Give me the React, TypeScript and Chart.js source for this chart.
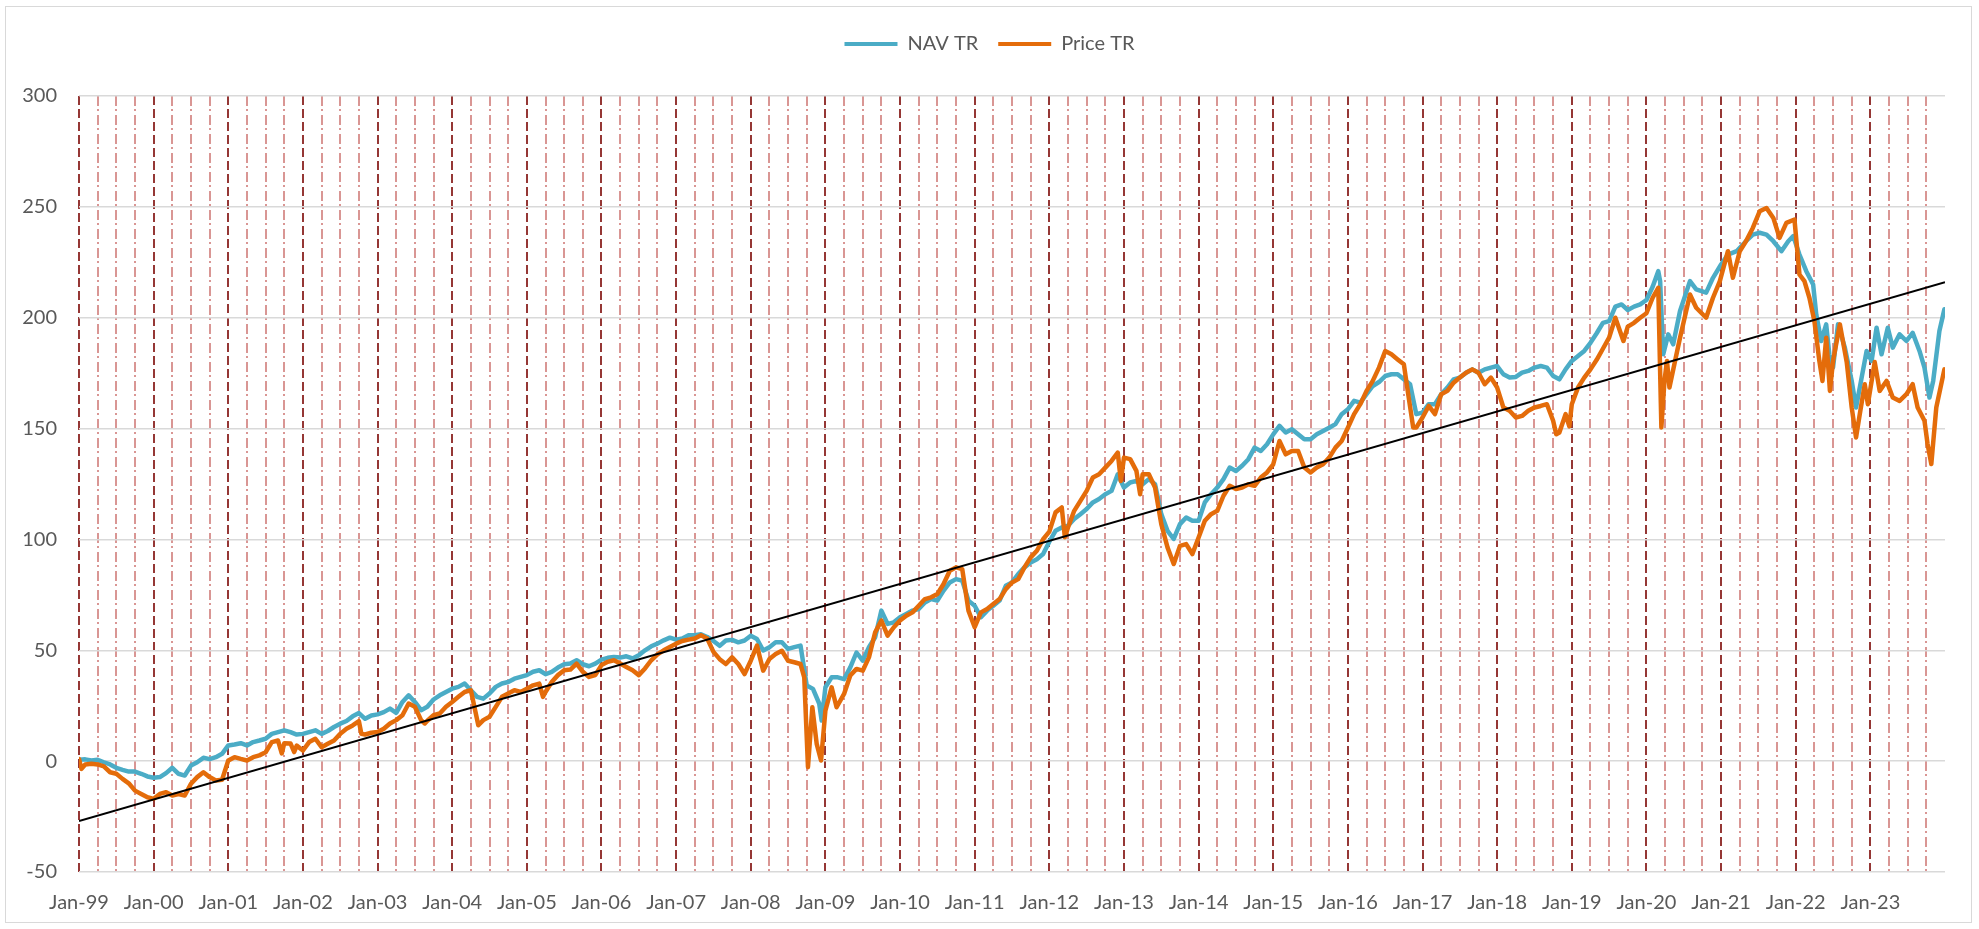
import { useEffect, useRef } from 'react';
import { Chart, registerables } from 'chart.js';

Chart.register(...registerables);

// x values are months since Jan-1999
const YEAR_LABELS = [
  'Jan-99', 'Jan-00', 'Jan-01', 'Jan-02', 'Jan-03', 'Jan-04', 'Jan-05', 'Jan-06', 'Jan-07',
  'Jan-08', 'Jan-09', 'Jan-10', 'Jan-11', 'Jan-12', 'Jan-13', 'Jan-14', 'Jan-15', 'Jan-16',
  'Jan-17', 'Jan-18', 'Jan-19', 'Jan-20', 'Jan-21', 'Jan-22', 'Jan-23',
];

const X_MAX = 300;
const Y_MIN = -50;
const Y_MAX = 300;
const Y_STEP = 50;

const NAV_MONTHS = [
  0, 1, 2, 3, 4, 5, 6, 7, 8, 9, 10, 11,
  12, 13, 14, 15, 16, 17, 18, 19, 20, 21, 22, 23,
  24, 25, 26, 27, 28, 29, 30, 31, 32, 33, 34, 35,
  36, 37, 38, 39, 40, 41, 42, 43, 44, 45, 46, 47,
  48, 49, 50, 51, 52, 53, 54, 55, 56, 57, 58, 59,
  60, 61, 62, 63, 64, 65, 66, 67, 68, 69, 70, 71,
  72, 73, 74, 75, 76, 77, 78, 79, 80, 81, 82, 83,
  84, 85, 86, 87, 88, 89, 90, 91, 92, 93, 94, 95,
  96, 97, 98, 99, 100, 101, 102, 103, 104, 105, 106, 107,
  108, 109, 110, 111, 112, 113, 114, 115, 116, 117, 118, 119, 119.4,
  120, 121, 122, 123, 124, 125, 126, 127, 128, 129, 130, 131,
  132, 133, 134, 135, 136, 137, 138, 139, 140, 141, 142, 143,
  144, 145, 146, 147, 148, 149, 150, 151, 152, 153, 154, 155,
  156, 157, 158, 159, 160, 161, 162, 163, 164, 165, 166, 167,
  168, 169, 170, 171, 172, 173, 174, 175, 176, 177, 178, 179,
  180, 181, 182, 183, 184, 185, 186, 187, 188, 189, 190, 191,
  192, 193, 194, 195, 196, 197, 198, 199, 200, 201, 202, 203,
  204, 205, 206, 207, 208, 209, 210, 211, 212, 213, 214, 215,
  216, 217, 218, 219, 220, 221, 222, 223, 224, 225, 226, 227,
  228, 229, 230, 231, 232, 233, 234, 235, 236, 237, 238, 239,
  240, 241, 242, 243, 244, 245, 246, 247, 248, 249, 250, 251,
  252, 253, 253.9, 254.2, 254.7, 255.5, 256.3, 257.4, 259, 260, 261.6, 262.7,
  264, 265.1, 266.5, 268, 269.1, 270.2, 271.3, 272.4, 273.7, 274.8, 275.6,
  276.6, 277.7, 278.8, 279.3, 280.1, 280.9, 281.4, 282, 282.8, 283.9,
  285, 285.7, 286.5, 287.4, 288.2, 289, 289.8, 290.8, 291.6, 292.7,
  293.8, 294.8, 295.9, 296.7, 297.5, 298.1, 299.1, 299.9,
];

const NAV_VALUES = [
  0.6, 0.8, 0.3, 0.6, -0.5, -1.5, -3, -3.9, -4.7, -4.7, -5.7, -6.9,
  -7.5, -7.2, -5.4, -3, -5.7, -6.5, -2, -0.5, 1.5, 0.9, 1.8, 3.3,
  7.1, 7.5, 8.1, 7.1, 8.6, 9.3, 10.1, 12.3, 13.1, 13.9, 13.1, 12,
  12.3, 13.1, 13.9, 12.3, 13.6, 15.4, 16.9, 18.1, 20.2, 21.7, 19.1, 20.6,
  21.1, 22.1, 23.7, 21.8, 26.7, 29.7, 26.7, 23, 24.5, 27.8, 29.7, 31.2,
  32.7, 33.5, 35, 32, 29, 28.2, 30.5, 33.5, 35, 35.7, 37.2, 38,
  38.8, 40.3, 41, 39.2, 40.3, 42.2, 43.7, 44, 45.5, 43.7, 42.8, 44,
  45.8, 46.6, 47, 46.7, 47.3, 46.3, 47.8, 50, 51.8, 53, 54.5, 55.7,
  54.8, 55.3, 56.8, 56.8, 57.2, 56, 54.2, 52, 54.4, 54.7, 53.6, 54.4,
  56.6, 55.1, 49.9, 51.4, 53.6, 53.6, 50.6, 51.4, 52.1, 34.1, 32.6, 26, 18.3,
  33.3, 37.8, 37.8, 37, 42.3, 49, 45.3, 51.4, 55.9, 67.9, 61.9, 62.6,
  64.9, 66.4, 67.9, 68.6, 71.6, 73.1, 72.4, 76.9, 80.6, 82.1, 81.4, 72.4,
  70.1, 64.9, 67.9, 70.1, 72.4, 79.1, 80.6, 84.4, 87.4, 89.6, 91.1, 93.4,
  99, 103.9, 105.4, 106.2, 109.2, 111.4, 113.7, 116.7, 118.2, 120.4, 121.9, 129.4,
  123.4, 125.7, 126.4, 124.9, 127.2, 124.9, 111.4, 103.9, 100.2, 106.9, 109.9, 108.4,
  108.4, 116.7, 120.4, 123.4, 127.2, 132.4, 130.9, 133.2, 136.2, 141.4, 139.9, 142.9,
  147.4, 151.2, 148.2, 149.7, 147.4, 145.2, 145.2, 147.4, 148.9, 150.4, 152, 156.5,
  158.7, 162.5, 161.7, 165.5, 169.2, 171, 173.7, 174.5, 174.5, 172.2, 170, 156.5,
  157.2, 161, 161, 165.5, 168.5, 172.2, 173, 175.2, 176.7, 175.2, 176.7, 177.5,
  178.2, 174.5, 173, 173.3, 175.2, 176, 177.5, 178.2, 177.5, 173.7, 172.2, 176.7,
  180.5, 182.7, 185, 188.7, 193, 197.7, 198.5, 205, 206, 203.5, 205, 206,
  208, 214, 221, 216.5, 183.5, 192.5, 188, 203, 216.5, 212.8, 211.3, 218,
  224, 228.5, 230, 234.5, 237.5, 238.3, 237.5, 234.5, 230, 234.5, 236.8,
  228.5, 221, 215, 201.5, 189.5, 197, 183.5, 177.5, 197, 186.5,
  171.5, 159.5, 171.5, 185, 180.5, 195.5, 183.5, 195.5, 186.5, 192.5,
  189.5, 193.2, 185, 177.5, 164, 171.5, 194, 203.8,
];

const PRICE_MONTHS = [
  0, 0.4, 1, 2, 3, 4, 5, 6, 7, 8, 9, 10, 11,
  12, 13, 14, 15, 16, 17, 18, 19, 20, 21, 22, 23,
  24, 25, 26, 27, 28, 29, 30, 31, 32, 32.6, 33, 34, 34.6, 35,
  36, 37, 38, 39, 40, 41, 42, 43, 44, 45, 45.4, 46, 47,
  48, 49, 50, 51, 52, 53, 54, 55, 55.6, 56, 57, 58, 59,
  60, 61, 62, 63, 64.2, 65, 66, 67, 68, 69, 70, 71,
  72, 73, 74, 74.6, 75, 76, 77, 78, 79, 80, 81, 82, 83,
  84, 85, 86, 87, 88, 89, 90, 91, 92, 93, 94, 95,
  96, 97, 98, 99, 100, 101, 102, 103, 104, 105, 106, 107,
  108, 109, 110, 111, 112, 113, 114, 115, 116, 116.6, 117.2, 117.9, 118.6, 119.3,
  120, 121, 121.8, 123, 124, 125, 126, 127, 128, 129, 130, 131,
  132, 133, 134, 135, 136, 137, 138, 139, 140, 141, 142, 143,
  144, 145, 146, 147, 148, 149, 150, 151, 152, 153, 154, 155,
  156, 157, 158, 158.5, 159, 160, 161, 162, 163, 164, 165, 166, 167, 167.5,
  168, 169, 170, 170.6, 171, 172, 173, 174, 175, 176, 177, 178, 179,
  180, 181, 182, 183, 184, 185, 186, 187, 188, 189, 190, 191,
  192, 193, 194, 195, 196, 197, 198, 199, 200, 201, 202, 203,
  204, 205, 206, 207, 208, 209, 210, 211, 212, 213, 213.7, 214.5, 215,
  216, 217, 218, 219, 220, 221, 222, 223, 224, 225, 226, 227,
  228, 229, 230, 231, 232, 233, 234, 235, 236, 237, 237.5, 238, 239, 239.6,
  240, 241, 242, 243, 244, 245, 246, 247, 248.3, 249, 250, 251,
  252, 253, 253.9, 254.4, 254.9, 255.3, 255.7, 256.6, 257.4, 259, 260, 261.6, 262.7,
  263.8, 265.1, 265.9, 267, 268, 269.1, 270.2, 271.3, 272.4, 273.4, 274.5, 275.8,
  276.6, 277.4, 278.2, 279, 279.8, 280.3, 280.9, 281.5, 282, 283.1, 284.2,
  285, 285.7, 286.3, 287.1, 287.6, 288.7, 289.5, 290.6, 291.6, 292.7,
  293.8, 294.8, 295.6, 296.7, 297.2, 297.8, 298.6, 299.9,
];

const PRICE_VALUES = [
  1, -3.5, -1.5, -1.2, -1.5, -2.4, -5, -5.7, -8, -10, -13.3, -14.8, -16.3,
  -17, -14.8, -14, -15.5, -14.8, -15.5, -10.2, -7.2, -5, -7.2, -8.7, -8.4,
  0.3, 1.8, 1, 0.3, 1.8, 2.6, 4, 8.6, 9.3, 3.5, 8.1, 8, 4.1, 7,
  4.8, 8.6, 10.1, 6.3, 7.8, 9.3, 12.3, 14.6, 16.1, 18, 12.3, 12, 12.8,
  13.1, 14.6, 17, 18.5, 20.7, 26, 24.5, 18.5, 17, 18.2, 20.7, 21.5, 24.5,
  26.7, 29, 31.2, 32, 16.2, 18.5, 20, 24.5, 29, 30.5, 32, 31.2,
  32.7, 34.2, 35, 29, 31.2, 35.7, 38.8, 41, 41.3, 44, 40.3, 38, 38.8,
  43.3, 44.8, 45.5, 44, 42.5, 41, 38.8, 41.8, 45.5, 48.2, 50, 51.5,
  53, 54.2, 54.8, 55.3, 56.8, 55.3, 49.3, 46, 43.8, 46.8, 43.8, 39.3,
  45.3, 52.1, 40.8, 46.1, 48.3, 49.8, 45.3, 44.6, 43.8, 37.8, -2.7, 24.3, 7.8, 0.3,
  22.8, 33.3, 24.3, 30.3, 38.6, 41.6, 40.8, 46.8, 58.1, 63.4, 56.6, 60.4,
  63.4, 65.6, 67.1, 70.1, 73.1, 73.9, 75.4, 79.9, 85.9, 87.4, 86.6, 67.9,
  60.4, 67.1, 68.6, 70.9, 73.1, 77.6, 80.6, 82.1, 87.4, 91.9, 94.9, 100.1,
  103.5, 112.2, 114.4, 101, 105.4, 112.9, 117.4, 121.9, 127.9, 129.4, 132.4, 135.4, 139.2, 126.4,
  136.9, 136.2, 130.9, 120.4, 129.4, 129.4, 123.4, 106.9, 96.4, 88.9, 97.1, 97.9, 93.4,
  100.9, 108.4, 111.4, 112.9, 119.7, 124.2, 122.7, 123.4, 124.9, 124.2, 127.9, 130.2,
  133.9, 144.4, 138.4, 139.9, 139.9, 132.4, 130.2, 132.4, 133.9, 136.9, 141.4, 144.4,
  150.4, 156.5, 161, 167, 171.5, 177.5, 185, 183.5, 181.2, 179, 165.5, 150.5, 150.5,
  155, 160.2, 156.5, 165.5, 167, 170.7, 173, 175.2, 176.7, 175.2, 170, 173,
  168.5, 159.5, 158, 155, 155.7, 158, 159.5, 160.2, 161, 153.5, 147.4, 148.2, 156.5, 151,
  161, 168.5, 173, 176.7, 181, 186, 191, 200, 189.5, 196, 197.7, 200,
  202, 209, 213.5, 150.5, 171.5, 180.5, 168.5, 180.5, 191, 210.5, 204.5, 200, 209,
  216.5, 230, 218, 230, 234.5, 240.5, 248, 249.5, 245, 236, 242.8, 244.3,
  219.5, 216.5, 209, 198.5, 180.5, 171.5, 191, 167, 180.5, 197, 180,
  159.5, 146, 156.5, 170, 161, 180, 167, 171.5, 164, 162.5,
  165.5, 170, 159.5, 153.5, 143, 134, 159.5, 176.7,
];

const TREND_MONTHS = [0, 300];
const TREND_VALUES = [-27, 216];

const NAV_COLOR = '#4BACC6';
const PRICE_COLOR = '#E46C0A';
const YEAR_GRID = '#953735';
const QUARTER_GRID = '#D99694';
const TEXT = '#595959';
const FONT = 'Lato, "Open Sans", sans-serif';

const toPoints = (xs: number[], ys: number[]) => xs.map((x, i) => ({ x, y: ys[i] }));

export default function App() {
  const ref = useRef<HTMLCanvasElement | null>(null);

  useEffect(() => {
    if (!ref.current) return;
    const chart = new Chart(ref.current, {
      type: 'line',
      data: {
        datasets: [
          {
            label: 'NAV TR',
            data: toPoints(NAV_MONTHS, NAV_VALUES),
            borderColor: NAV_COLOR,
            backgroundColor: NAV_COLOR,
            borderWidth: 4.5,
            pointRadius: 0,
            tension: 0,
            borderJoinStyle: 'round',
            borderCapStyle: 'round',
            order: 2,
            xAxisID: 'x',
            yAxisID: 'y',
          },
          {
            label: 'Price TR',
            data: toPoints(PRICE_MONTHS, PRICE_VALUES),
            borderColor: PRICE_COLOR,
            backgroundColor: PRICE_COLOR,
            borderWidth: 4.5,
            pointRadius: 0,
            tension: 0,
            borderJoinStyle: 'round',
            borderCapStyle: 'round',
            order: 1,
            xAxisID: 'x',
            yAxisID: 'y',
          },
          {
            label: 'Trend',
            data: toPoints(TREND_MONTHS, TREND_VALUES),
            borderColor: '#000000',
            backgroundColor: '#000000',
            borderWidth: 2,
            pointRadius: 0,
            order: 0,
            xAxisID: 'x',
            yAxisID: 'y',
          },
        ],
      },
      options: {
        responsive: false,
        animation: false,
        devicePixelRatio: 1,
        events: [],
        layout: { padding: { top: 14, right: 0, bottom: 0, left: 0 } },
        plugins: {
          tooltip: { enabled: false },
          legend: {
            display: true,
            position: 'top',
            labels: {
              color: TEXT,
              font: { family: FONT, size: 20 },
              boxWidth: 53,
              boxHeight: 4,
              padding: 20,
              generateLabels: (c: any) =>
                c.data.datasets.slice(0, 2).map((ds: any, i: number) => ({
                  text: ds.label,
                  fillStyle: ds.borderColor,
                  strokeStyle: ds.borderColor,
                  lineWidth: 0,
                  hidden: false,
                  datasetIndex: i,
                  fontColor: TEXT,
                })),
            },
          },
          title: {
            display: true,
            text: ' ',
            weight: 500,
            font: { size: 10 },
            padding: { top: 20, bottom: 0 },
          },
        },
        scales: {
          x: {
            type: 'linear',
            position: 'bottom',
            min: 0,
            max: X_MAX,
            afterFit: (s: any) => { s.height = 57; },
            border: { display: false, dash: [9, 4] },
            grid: {
              drawTicks: false,
              lineWidth: 2,
              color: (ctx: any) => (ctx.tick && ctx.tick.value < X_MAX ? YEAR_GRID : 'rgba(0,0,0,0)'),
            },
            ticks: {
              stepSize: 12,
              autoSkip: false,
              maxRotation: 0,
              padding: 19,
              color: TEXT,
              font: { family: FONT, size: 20 },
              callback: (v: any) => {
                const i = Number(v) / 12;
                return Number.isInteger(i) && i < YEAR_LABELS.length ? YEAR_LABELS[i] : '';
              },
            },
          },
          xq: {
            type: 'linear',
            position: 'bottom',
            min: 0,
            max: X_MAX,
            afterFit: (s: any) => { s.height = 0; },
            border: { display: false, dash: [10, 3, 2, 4] },
            grid: {
              drawTicks: false,
              lineWidth: 2,
              color: (ctx: any) => {
                const v = ctx.tick ? ctx.tick.value : 0;
                return v % 12 !== 0 && v < X_MAX ? QUARTER_GRID : 'rgba(0,0,0,0)';
              },
            },
            ticks: { display: false, stepSize: 3, autoSkip: false },
          },
          y: {
            type: 'linear',
            position: 'left',
            min: Y_MIN,
            max: Y_MAX,
            afterFit: (s: any) => { s.width = 79; },
            border: { display: false },
            grid: { drawTicks: false, color: '#D9D9D9', lineWidth: 1.5 },
            ticks: {
              stepSize: Y_STEP,
              padding: 22,
              color: TEXT,
              font: { family: FONT, size: 20 },
            },
          },
          yr: {
            type: 'linear',
            position: 'right',
            min: Y_MIN,
            max: Y_MAX,
            afterFit: (s: any) => { s.width = 34; },
            border: { display: false },
            grid: { display: false, drawTicks: false },
            ticks: { display: false },
          },
        },
      },
    } as any);
    return () => chart.destroy();
  }, []);

  return (
    <div style={{ position: 'absolute', left: 0, top: 0, width: 1979, height: 929, background: '#ffffff', overflow: 'hidden' }}>
      <canvas ref={ref} width={1979} height={929} style={{ position: 'absolute', left: 0, top: 0 }} />
      <div
        style={{
          position: 'absolute',
          left: 5,
          top: 6,
          width: 1967,
          height: 917,
          border: '1px solid #D9D9D9',
          boxSizing: 'border-box',
          pointerEvents: 'none',
        }}
      />
    </div>
  );
}
